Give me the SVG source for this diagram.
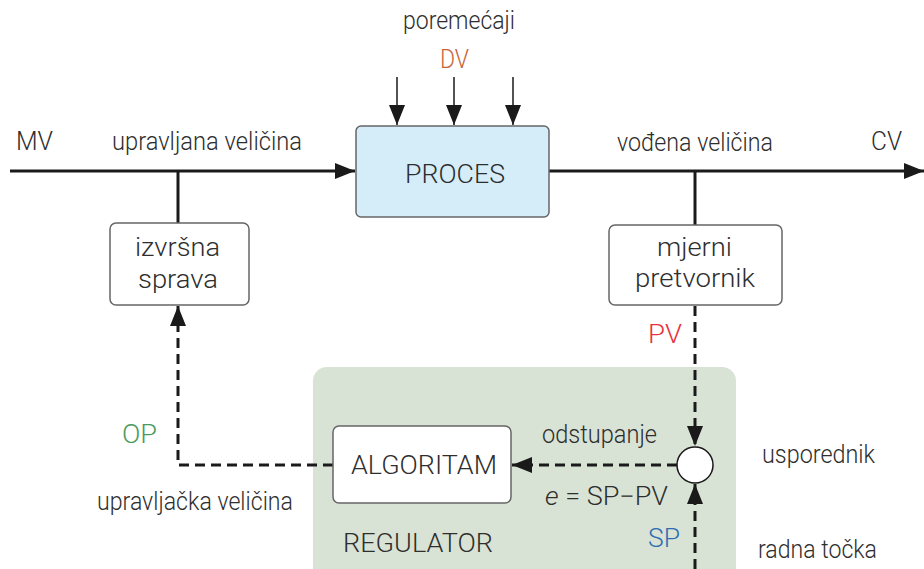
<svg xmlns="http://www.w3.org/2000/svg" width="924" height="569" viewBox="0 0 924 569">
<defs>
<marker id="ahb" viewBox="0 0 10 10" refX="10" refY="5" markerWidth="20" markerHeight="16" markerUnits="userSpaceOnUse" orient="auto" preserveAspectRatio="none">
<path d="M0,0 L10,5 L0,10 z" fill="#1a1a1a"/>
</marker>
</defs>
<style>
text{font-family:Roboto,"Liberation Sans",sans-serif;font-size:25px;font-weight:300;fill:#2e2e2e}
.box{fill:#fff;stroke:#666;stroke-width:1.5}
.ln{stroke:#1a1a1a;stroke-width:3;fill:none}
.ds{stroke:#1a1a1a;stroke-width:3;fill:none;stroke-dasharray:10 6}
.thin{stroke:#1a1a1a;stroke-width:1.5;fill:none}
</style>
<g id="regulator">
<rect x="313" y="367" width="423" height="230" rx="14" fill="#d9e3d5"/>
<text x="343" y="552" textLength="150" lengthAdjust="spacingAndGlyphs">REGULATOR</text>
</g>
<g id="connectors">
<line class="ln" x1="10" y1="171" x2="355" y2="171" marker-end="url(#ahb)"/>
<line class="ln" x1="549" y1="171" x2="924" y2="171" marker-end="url(#ahb)"/>
<line class="ln" x1="178" y1="171" x2="178" y2="223"/>
<line class="ln" x1="695" y1="171" x2="695" y2="225"/>
<line class="thin" x1="397" y1="77" x2="397" y2="125" marker-end="url(#ahb)"/>
<line class="thin" x1="454" y1="77" x2="454" y2="125" marker-end="url(#ahb)"/>
<line class="thin" x1="513" y1="77" x2="513" y2="125" marker-end="url(#ahb)"/>
<line class="ds" x1="695" y1="306" x2="695" y2="446" marker-end="url(#ahb)"/>
<line class="ds" x1="677" y1="465" x2="512" y2="465" marker-end="url(#ahb)"/>
<line class="ds" x1="695" y1="569" x2="695" y2="484" marker-end="url(#ahb)"/>
<polyline class="ds" points="333,465 178,465 178,306" marker-end="url(#ahb)"/>
</g>
<g id="proces">
<rect x="356" y="126" width="193" height="91" rx="5" fill="#d5ecf9" stroke="#666" stroke-width="1.5"/>
<text x="405" y="183" textLength="100" lengthAdjust="spacingAndGlyphs">PROCES</text>
</g>
<g id="izvrsna">
<rect class="box" x="110" y="223" width="139" height="82" rx="6"/>
<text x="135" y="256" textLength="85" lengthAdjust="spacingAndGlyphs">izvršna</text>
<text x="138" y="288" textLength="80" lengthAdjust="spacingAndGlyphs">sprava</text>
</g>
<g id="mjerni">
<rect class="box" x="609" y="225" width="173" height="80" rx="6"/>
<text x="657" y="256" textLength="75" lengthAdjust="spacingAndGlyphs">mjerni</text>
<text x="635" y="287" textLength="120" lengthAdjust="spacingAndGlyphs">pretvornik</text>
</g>
<g id="algoritam">
<rect class="box" x="333" y="426" width="178" height="77" rx="6"/>
<text x="351" y="474" textLength="146" lengthAdjust="spacingAndGlyphs">ALGORITAM</text>
</g>
<g id="usporednik">
<circle cx="695" cy="465" r="18" fill="#fff" stroke="#1a1a1a" stroke-width="1.5"/>
</g>
<g id="labels">
<text x="403" y="29" textLength="112" lengthAdjust="spacingAndGlyphs">poremećaji</text>
<text x="440" y="68" textLength="29" lengthAdjust="spacingAndGlyphs" style="fill:#c8643c">DV</text>
<text x="16" y="150" textLength="37" lengthAdjust="spacingAndGlyphs">MV</text>
<text x="112" y="150" textLength="190" lengthAdjust="spacingAndGlyphs">upravljana veličina</text>
<text x="617" y="151" textLength="156" lengthAdjust="spacingAndGlyphs">vođena veličina</text>
<text x="871" y="150" textLength="31" lengthAdjust="spacingAndGlyphs">CV</text>
<text x="648" y="343" textLength="34" lengthAdjust="spacingAndGlyphs" style="fill:#e8323c">PV</text>
<text x="542" y="443" textLength="115" lengthAdjust="spacingAndGlyphs">odstupanje</text>
<text x="545" y="505" textLength="123" lengthAdjust="spacingAndGlyphs"><tspan font-style="italic">e</tspan> = SP−PV</text>
<text x="648" y="547" textLength="32" lengthAdjust="spacingAndGlyphs" style="fill:#2f6db0">SP</text>
<text x="762" y="463" textLength="113" lengthAdjust="spacingAndGlyphs">usporednik</text>
<text x="758" y="558" textLength="119" lengthAdjust="spacingAndGlyphs">radna točka</text>
<text x="122" y="443" textLength="35" lengthAdjust="spacingAndGlyphs" style="fill:#4a9a5e">OP</text>
<text x="97" y="510" textLength="196" lengthAdjust="spacingAndGlyphs">upravljačka veličina</text>
</g>
</svg>
